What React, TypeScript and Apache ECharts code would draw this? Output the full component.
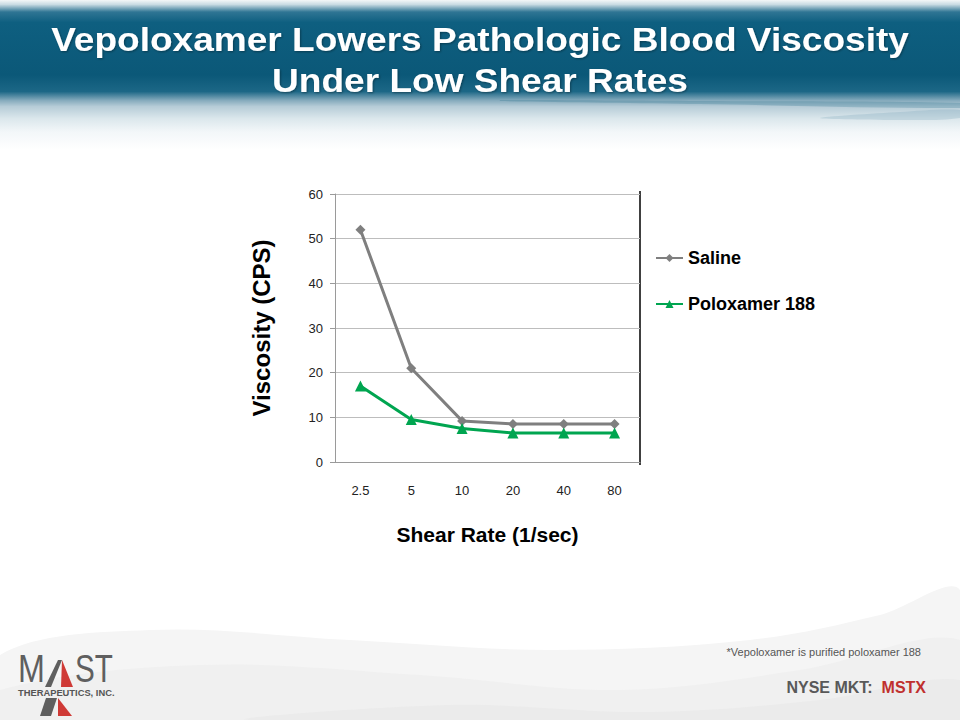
import React, { useEffect, useRef } from "react";
import * as echarts from "echarts";

const categories = ["2.5", "5", "10", "20", "40", "80"];
const salineValues = [52, 21, 9.2, 8.5, 8.5, 8.5];
const poloxamerValues = [17, 9.5, 7.5, 6.5, 6.5, 6.5];
const seriesNames = ["Saline", "Poloxamer 188"];
const yTicks = { min: 0, max: 60, interval: 10 };

const FONT = "'Liberation Sans', Arial, sans-serif";

export default function App() {
  const ref = useRef<HTMLDivElement>(null);
  useEffect(() => {
    if (!ref.current) return;
    const chart = echarts.init(ref.current, null, { renderer: "svg" });
    const option: any = {
      animation: false,
      backgroundColor: "#ffffff",
      textStyle: { fontFamily: FONT },
      grid: { left: 335, right: 320, top: 194, bottom: 258, containLabel: false },
      legend: {
        orient: "vertical",
        left: 655,
        top: 248,
        itemWidth: 27,
        itemHeight: 10,
        itemGap: 26,
        padding: 0,
        data: seriesNames,
        textStyle: { fontFamily: FONT, fontSize: 18, fontWeight: "bold", color: "#000", lineHeight: 20 },
      },
      xAxis: {
        type: "category",
        data: categories,
        boundaryGap: true,
        name: "Shear Rate (1/sec)",
        nameLocation: "middle",
        nameGap: 62,
        nameTextStyle: { fontFamily: FONT, fontSize: 21, fontWeight: "bold", color: "#000" },
        axisLine: { show: true, lineStyle: { color: "#9a9a9a", width: 1 } },
        axisTick: { show: false },
        axisLabel: { fontFamily: FONT, fontSize: 13, color: "#222", margin: 22 },
        splitLine: { show: false },
      },
      yAxis: {
        type: "value",
        min: yTicks.min,
        max: yTicks.max,
        interval: yTicks.interval,
        name: "Viscosity (CPS)",
        nameLocation: "middle",
        nameGap: 62,
        nameTextStyle: { fontFamily: FONT, fontSize: 24, fontWeight: "bold", color: "#000" },
        axisLine: { show: true, lineStyle: { color: "#9a9a9a", width: 1 } },
        axisTick: { show: true, inside: false, length: 5, lineStyle: { color: "#9a9a9a" } },
        axisLabel: { fontFamily: FONT, fontSize: 13, color: "#222", margin: 12 },
        splitLine: { show: true, lineStyle: { color: "#bdbdbd", width: 1 } },
      },
      series: [
        {
          name: seriesNames[0],
          type: "line",
          data: salineValues,
          symbol: "diamond",
          symbolSize: 10,
          lineStyle: { color: "#7f7f7f", width: 3 },
          itemStyle: { color: "#7f7f7f" },
          z: 3,
        },
        {
          name: seriesNames[1],
          type: "line",
          data: poloxamerValues,
          symbol: "triangle",
          symbolSize: 11,
          lineStyle: { color: "#00a550", width: 3 },
          itemStyle: { color: "#00a550" },
          z: 4,
        },
      ],
      graphic: [
        // header band
        {
          type: "rect",
          z: -10,
          shape: { x: 0, y: 0, width: 960, height: 150 },
          style: {
            fill: new echarts.graphic.LinearGradient(0, 0, 0, 1, [
              { offset: 0, color: "#f4f7f8" },
              { offset: 0.03, color: "#c9dbe3" },
              { offset: 0.08, color: "#2f7594" },
              { offset: 0.15, color: "#0e5f80" },
              { offset: 0.5, color: "#0b5878" },
              { offset: 0.61, color: "#1c6786" },
              { offset: 0.67, color: "#86abbd" },
              { offset: 0.71, color: "#b6ccd7" },
              { offset: 0.79, color: "#dbe7ec" },
              { offset: 0.88, color: "#f3f7f9" },
              { offset: 1, color: "#ffffff" },
            ]),
          },
        },
        {
          type: "polygon",
          z: -9,
          shape: {
            points: [[500, 100], [700, 101], [960, 103], [960, 108], [700, 104], [500, 101]],
            smooth: 0.3,
          },
          style: { fill: "rgba(40,110,140,0.25)" },
        },
        {
          type: "polygon",
          z: -9,
          shape: {
            points: [[820, 118], [900, 112], [960, 110], [960, 118], [900, 120]],
            smooth: 0.3,
          },
          style: { fill: "rgba(130,170,190,0.3)" },
        },
        // footer waves
        {
          type: "polygon",
          z: -10,
          shape: {
            points: [[0, 720], [0, 655], [150, 630], [350, 640], [550, 650], [750, 640], [880, 615], [960, 590], [960, 720]],
            smooth: 0.35,
          },
          style: { fill: "#f5f5f5" },
        },
        {
          type: "polygon",
          z: -9,
          shape: {
            points: [[0, 720], [0, 690], [200, 665], [420, 675], [620, 690], [800, 670], [960, 640], [960, 720]],
            smooth: 0.35,
          },
          style: { fill: "#f0f0f0" },
        },
        {
          type: "polygon",
          z: -8,
          shape: {
            points: [[250, 720], [450, 705], [650, 712], [820, 700], [960, 680], [960, 720]],
            smooth: 0.35,
          },
          style: { fill: "#ebebeb" },
        },
        // title
        {
          type: "text",
          x: 480,
          y: 40,
          scaleX: 1.09,
          style: {
            text: "Vepoloxamer Lowers Pathologic Blood Viscosity",
            fontFamily: FONT,
            fontSize: 34,
            fontWeight: "bold",
            fill: "#ffffff",
            align: "center",
            verticalAlign: "middle",
            textShadowColor: "rgba(0,0,0,0.35)",
            textShadowBlur: 2,
            textShadowOffsetX: 1,
            textShadowOffsetY: 1,
          },
        },
        {
          type: "text",
          x: 480,
          y: 81,
          scaleX: 1.09,
          style: {
            text: "Under Low Shear Rates",
            fontFamily: FONT,
            fontSize: 34,
            fontWeight: "bold",
            fill: "#ffffff",
            align: "center",
            verticalAlign: "middle",
            textShadowColor: "rgba(0,0,0,0.35)",
            textShadowBlur: 2,
            textShadowOffsetX: 1,
            textShadowOffsetY: 1,
          },
        },
        // right border of chart
        {
          type: "line",
          shape: { x1: 640, y1: 191, x2: 640, y2: 465 },
          style: { stroke: "#000", lineWidth: 1.5 },
        },
        // footnote
        {
          type: "text",
          x: 921,
          y: 652,
          style: {
            text: "*Vepoloxamer is purified poloxamer 188",
            fontFamily: FONT,
            fontSize: 11,
            fill: "#555",
            align: "right",
            verticalAlign: "middle",
          },
        },
        {
          type: "text",
          x: 926,
          y: 687,
          style: {
            text: "{a|NYSE MKT:  }{b|MSTX}",
            align: "right",
            verticalAlign: "middle",
            rich: {
              a: { fontFamily: FONT, fontSize: 16, fontWeight: "bold", fill: "#595959", color: "#595959" },
              b: { fontFamily: FONT, fontSize: 16, fontWeight: "bold", fill: "#c0302e", color: "#c0302e" },
            },
          },
        },
        // logo
        {
          type: "text",
          x: 18,
          y: 688,
          scaleX: 0.85,
          style: {
            text: "M",
            fontFamily: FONT,
            fontSize: 38,
            fill: "#5f5f5f",
            align: "left",
            verticalAlign: "bottom",
          },
        },
        {
          type: "polygon",
          shape: { points: [[45, 687], [51, 687], [62, 660], [58, 660]] },
          style: { fill: "#5f5f5f" },
        },
        {
          type: "polygon",
          shape: { points: [[62, 660], [73, 687], [61, 687]] },
          style: { fill: "#cf3a36" },
        },
        {
          type: "text",
          x: 75,
          y: 688,
          scaleX: 0.78,
          style: {
            text: "ST",
            fontFamily: FONT,
            fontSize: 38,
            fill: "#5f5f5f",
            align: "left",
            verticalAlign: "bottom",
          },
        },
        {
          type: "text",
          x: 18,
          y: 693,
          scaleX: 1.1,
          style: {
            text: "THERAPEUTICS, INC.",
            fontFamily: FONT,
            fontSize: 8.5,
            fontWeight: "bold",
            fill: "#555",
            align: "left",
            verticalAlign: "middle",
          },
        },
        {
          type: "polygon",
          shape: { points: [[46, 698], [57, 698], [51, 716], [40, 716]] },
          style: { fill: "#5f5f5f" },
        },
        {
          type: "polygon",
          shape: { points: [[58, 698], [72, 716], [58, 716]] },
          style: { fill: "#cf3a36" },
        },
      ],
    };
    chart.setOption(option);
    return () => chart.dispose();
  }, []);
  return (
    <div
      ref={ref}
      style={{ position: "absolute", left: 0, top: 0, width: 960, height: 720 }}
    />
  );
}
